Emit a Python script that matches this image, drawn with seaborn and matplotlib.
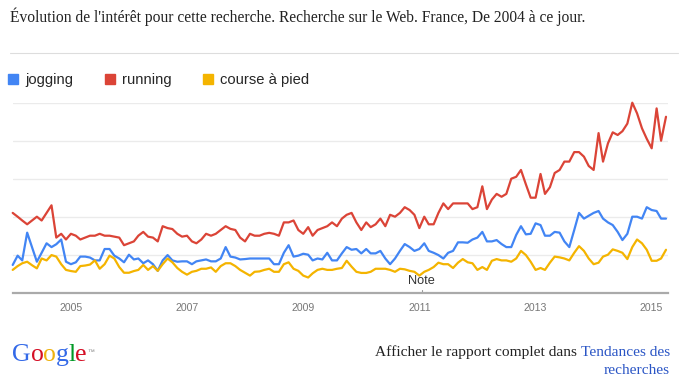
import numpy as np
import pandas as pd
import matplotlib
matplotlib.use("Agg")
import matplotlib.pyplot as plt
import matplotlib.dates as mdates
import seaborn as sns
from matplotlib.lines import Line2D

# ---------------- data (monthly, Jan 2004 onwards) ----------------
start_month = "2004-01-01"
series_names = ["jogging", "running", "course à pied"]
series_colors = ["#4285f4", "#db4437", "#f4b400"]

jogging = [
    14.6, 19.5, 17, 31.6, 24, 16.3, 21, 26, 24, 25.5, 28, 16.3,
    15, 16, 19, 19, 18.5, 17, 17, 23, 23, 19.5, 18, 16,
    20, 17.5, 18, 15.5, 17, 15, 11.5, 17, 19.8, 17, 16.3, 16.5,
    16.5, 15, 16.5, 17, 17.5, 16.5, 16.5, 18, 24, 19, 18.5, 17.5,
    17.7, 18, 18, 18, 18, 18, 15, 15, 21, 25, 19, 19.5,
    20.5, 20, 17, 18, 17.5, 21, 17, 17, 20.7, 24, 22.6, 23,
    20.7, 23, 20.7, 20.7, 22, 18, 15, 18, 22, 25.6, 24, 22,
    23, 26, 22, 21, 19.8, 18, 21, 22, 26.5, 26.5, 26.3, 28,
    29, 32, 27, 27, 27.7, 25.6, 24, 24, 30.4, 35, 30.7, 31,
    36.5, 35.6, 30, 30, 32, 31.6, 27, 24, 33, 42, 39, 40.5,
    42, 43, 39, 37, 35.6, 32, 27.7, 31, 40, 40, 39, 45,
    43.5, 43, 39, 39,
]
running = [
    42, 40, 38, 36, 38, 40, 38, 42, 46, 29, 31, 28,
    31, 30, 28, 29, 30, 30, 31, 30, 30, 29.5, 29, 25,
    26, 27, 30, 32, 29.5, 29, 27, 35, 34, 33.5, 31, 29.5,
    30, 27, 26, 28, 31, 30, 31, 33, 35, 33.6, 33, 29,
    27, 31, 30, 30, 31, 31.5, 31, 30, 37, 37, 38, 33,
    31, 34.5, 30, 33, 34, 35, 37, 35, 39, 41, 42, 37,
    33, 37, 34.5, 36, 39, 35, 41, 40, 42, 45, 43.5, 41,
    34, 40, 36, 36, 42, 47, 44, 47, 47, 47, 47, 44,
    45, 56, 44, 49, 52, 50.5, 52, 60, 61, 64.6, 57, 50,
    50, 62.5, 52, 55.5, 63, 64.6, 69, 69, 74, 74, 71.6, 66.7,
    64.6, 84, 69, 78.6, 84.4, 83, 85, 89, 100, 94.4, 86.5, 81,
    76, 97, 80, 92.6,
]
course = [
    12, 14, 15.5, 16.3, 14.5, 12.8, 18, 17, 19.8, 19, 15, 12,
    11.4, 11, 14, 14.3, 14.8, 17, 12.6, 15, 19.5, 18, 13.5, 10.5,
    10.5, 11.4, 12, 14.6, 12, 14, 11.5, 15, 18, 16, 13, 11,
    9.5, 11, 11.5, 12.6, 12.6, 13.3, 11, 14, 15.5, 15.5, 14, 12,
    10.5, 9, 11, 11.2, 12, 12.6, 11, 11, 15, 16, 12.6, 11.5,
    9, 8, 10.2, 12, 12.6, 12, 12, 12.6, 13, 16.8, 13.7, 11,
    10.4, 10.4, 11, 12.6, 12.6, 12.6, 12, 11, 12.6, 12.3, 11.5, 11,
    9, 11, 12, 13.5, 15.8, 15, 15, 13, 15.8, 17.7, 16, 15.5,
    12, 13.5, 12, 16.8, 17.7, 17, 17, 16.3, 18, 22, 19.8, 16.3,
    12, 13, 12, 15.8, 19, 18.6, 18, 17, 21, 24.5, 22, 18,
    15, 15.8, 19, 20, 22.8, 22, 21, 17.7, 24, 28, 26, 22.6,
    16.8, 16.8, 18, 22.6,
]
year_ticks = [2005, 2007, 2009, 2011, 2013, 2015]
note_label = "Note"
note_date = "2011-01-15"

title_text = "Évolution de l'intérêt pour cette recherche. Recherche sur le Web. France, De 2004 à ce jour."
footer_dark = "Afficher le rapport complet dans "
footer_link1 = "Tendances des"
footer_link2 = "recherches"

# ---------------- table ----------------
dates = pd.date_range(start_month, periods=len(running), freq="MS")
df = pd.DataFrame({
    "date": np.tile(dates, 3),
    "value": jogging + running + course,
    "terme": np.repeat(series_names, len(dates)),
})

sns.set_theme(style="white")
plt.rcParams["font.family"] = ["Liberation Sans", "DejaVu Sans"]

W, H = 685, 378
fig = plt.figure(figsize=(W / 100, H / 100), dpi=100)
fig.patch.set_facecolor("white")

y0 = 292.7
ax = fig.add_axes([12.7 / W, (H - y0) / H, (668 - 12.7) / W, 190 / H])
sns.lineplot(data=df, x="date", y="value", hue="terme",
             palette=dict(zip(series_names, series_colors)),
             linewidth=1.6, ax=ax, legend=False)
for ln in ax.get_lines():
    ln.set_clip_on(False)
    ln.set_solid_joinstyle("round")

# axis range
x_left = mdates.date2num(pd.Timestamp(start_month))
x_last = mdates.date2num(dates[-1])
ax.set_xlim(x_left, x_last + (x_last - x_left) * (668 - 666) / (666 - 12.7))
ax.set_ylim(0, 100)

ax.set_yticks([20, 40, 60, 80, 100])
ax.set_yticklabels([])
ax.tick_params(axis="y", length=0)
ax.grid(axis="y", color="#ebebeb", linewidth=1.0)
ax.set_axisbelow(True)

ax.set_xticks([mdates.date2num(pd.Timestamp(f"{y}-01-01")) for y in year_ticks])
ax.set_xticklabels([str(y) for y in year_ticks])
ax.tick_params(axis="x", length=0, pad=7.5, labelsize=7.6, labelcolor="#777777")
ax.set_xlabel("")
ax.set_ylabel("")
for s in ["top", "right", "left"]:
    ax.spines[s].set_visible(False)
ax.spines["bottom"].set_color("#aaaaaa")
ax.spines["bottom"].set_linewidth(1.6)

# Note annotation
nd = mdates.date2num(pd.Timestamp(note_date))
ax.plot([nd, nd], [0, 1.5], color="#999999", linewidth=0.8, clip_on=False)
ax.text(nd, 6.0, note_label, ha="center", va="center", fontsize=9.2, color="#333333")

# title and separator
fig.text(10 / W, 1 - 17 / H, title_text, family=["Liberation Serif", "DejaVu Serif"],
         fontsize=11.2, color="#222222", va="center", ha="left")
fig.add_artist(Line2D([10 / W, 678 / W], [1 - 53 / H, 1 - 53 / H],
                      color="#dddddd", linewidth=0.8))

# legend
handles = [Line2D([], [], marker="s", linestyle="", markersize=7.2,
                  markerfacecolor=c, markeredgecolor=c) for c in series_colors]
fig.legend(handles, series_names, loc="center left",
           bbox_to_anchor=(9 / W, 1 - 80 / H), ncol=3, frameon=False,
           fontsize=10.6, handlelength=0.6, handletextpad=0.5,
           columnspacing=2.2, borderaxespad=0, borderpad=0)

# Google logo
fig.canvas.draw()
renderer = fig.canvas.get_renderer()
letters = [("G", "#3369e8"), ("o", "#d50f25"), ("o", "#eeb211"),
           ("g", "#3369e8"), ("l", "#009925"), ("e", "#d50f25")]
xpix = 12.5
for ch, col in letters:
    t = fig.text(xpix / W, 1 - 361 / H, ch, family=["Liberation Serif", "DejaVu Serif"],
                 fontsize=18.5, color=col, ha="left", va="baseline")
    bb = t.get_window_extent(renderer)
    xpix += bb.width - 0.3
fig.text((xpix + 0.5) / W, 1 - 352 / H, "™", fontsize=5, color="#888888",
         ha="left", va="center")

# footer text
ft = fig.text(670 / W, 1 - 352 / H, footer_link1, family=["Liberation Serif", "DejaVu Serif"],
              fontsize=11.1, color="#2a55c5", ha="right", va="center")
bb = ft.get_window_extent(renderer)
fig.text(bb.x0 / W, 1 - 352 / H, footer_dark, family=["Liberation Serif", "DejaVu Serif"],
         fontsize=11.1, color="#222222", ha="right", va="center")
fig.text(670 / W, 1 - 371 / H, footer_link2, family=["Liberation Serif", "DejaVu Serif"],
         fontsize=11.1, color="#2a55c5", ha="right", va="center")

fig.savefig("out.png", dpi=100, facecolor="white")
